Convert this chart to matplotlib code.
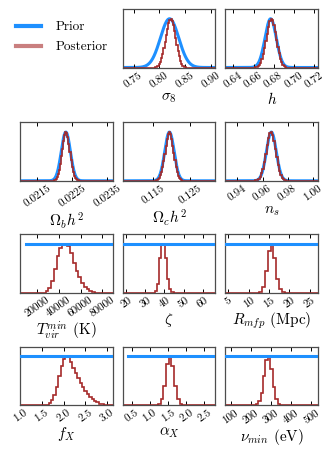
import numpy as np
import matplotlib
matplotlib.use('Agg')
import matplotlib.pyplot as plt
from matplotlib.lines import Line2D

plt.rcParams['font.family'] = 'serif'
plt.rcParams['font.serif'] = ['cmr10']
plt.rcParams['mathtext.fontset'] = 'cm'
plt.rcParams['axes.formatter.use_mathtext'] = True

# parameter names, axis ranges and ticks
names = [r'$\sigma_8$', r'$h$', r'$\Omega_b h^2$', r'$\Omega_c h^2$', r'$n_s$',
         r'$T_{vir}^{min}$ (K)', r'$\zeta$', r'$R_{mfp}$ (Mpc)',
         r'$f_X$', r'$\alpha_X$', r'$\nu_{min}$ (eV)']
xlims = [(0.729, 0.908), (0.632, 0.724), (0.0210, 0.02365), (0.1068, 0.1318),
         (0.9303, 1.0042), (4400, 89500), (18.3, 66.6), (4.3, 27.0),
         (0.998, 3.13), (0.258, 2.80), (74, 533)]
ticks = [[0.75, 0.80, 0.85, 0.90], [0.64, 0.66, 0.68, 0.70, 0.72],
         [0.0215, 0.0225, 0.0235], [0.115, 0.125], [0.94, 0.96, 0.98, 1.00],
         [20000, 40000, 60000, 80000], [20, 30, 40, 50, 60], [5, 10, 15, 20, 25],
         [1.0, 1.5, 2.0, 2.5, 3.0], [0.5, 1.0, 1.5, 2.0, 2.5], [100, 200, 300, 400, 500]]
tick_labels = [['0.75', '0.80', '0.85', '0.90'], ['0.64', '0.66', '0.68', '0.70', '0.72'],
               ['0.0215', '0.0225', '0.0235'], ['0.115', '0.125'], ['0.94', '0.96', '0.98', '1.00'],
               ['20000', '40000', '60000', '80000'], ['20', '30', '40', '50', '60'],
               ['5', '10', '15', '20', '25'], ['1.0', '1.5', '2.0', '2.5', '3.0'],
               ['0.5', '1.0', '1.5', '2.0', '2.5'], ['100', '200', '300', '400', '500']]

# gaussian priors (first five), flat priors (last six)
prior_mean = [0.8195, 0.677, 0.02231, 0.1194, 0.967]
prior_sigma = [0.0177, 0.0056, 0.00013, 0.00126, 0.0039]
flat_prior = [(10000, 100000), (10, 250), (2, 30), (0.1, 10), (0.4, 3.0), (70, 1500)]

# posterior histograms: first bin edge, bin width, counts
post_lo = [0.79145, 0.6614, 0.021965, 0.11565, 0.95435, 28000, 34.9, 12.6, 1.60, 1.22, 225]
post_w = [0.0023, 0.0013, 0.00003, 0.0003, 0.0011, 2500, 1.1, 0.7, 0.055, 0.075, 12]
post_counts = [
    [1, 2, 4, 7, 12, 19, 28, 40, 53, 67, 80, 91, 98, 100, 96, 87, 75, 61, 47, 34, 23, 14, 8, 4, 2, 1],
    [1, 2, 3, 6, 10, 17, 27, 39, 54, 69, 84, 95, 100, 97, 87, 73, 57, 42, 29, 18, 11, 6, 3, 1],
    [1, 2, 4, 8, 14, 23, 35, 50, 66, 81, 93, 100, 98, 89, 75, 59, 43, 29, 18, 10, 5, 3, 1, 1],
    [1, 2, 3, 6, 11, 18, 28, 41, 56, 71, 85, 95, 100, 96, 86, 72, 57, 42, 29, 18, 10, 5, 3, 1],
    [1, 2, 4, 8, 15, 25, 39, 56, 73, 88, 98, 100, 94, 82, 66, 49, 33, 20, 11, 6, 3, 1],
    [3, 10, 24, 48, 75, 92, 99, 100, 95, 82, 61, 44, 31, 20, 12, 7, 3, 1],
    [3, 17, 71, 97, 100, 71, 27, 7, 1],
    [2, 12, 45, 85, 100, 70, 28, 8, 2],
    [1, 5, 10, 21, 38, 59, 80, 94, 100, 98, 89, 77, 66, 56, 45, 37, 30, 23, 17, 13, 8, 6, 3, 2, 1],
    [3, 12, 40, 85, 100, 80, 40, 12, 3],
    [2, 8, 25, 60, 92, 100, 75, 38, 12, 3],
]

W, H = 331, 450
fig = plt.figure(figsize=(W / 100, H / 100), dpi=100)

col_left = [20, 122.7, 225.3]
row_top = [9, 122.3, 234, 346.7]
aw, ah = 92.7, 58.5
slots = [(0, 1), (0, 2), (1, 0), (1, 1), (1, 2), (2, 0), (2, 1), (2, 2), (3, 0), (3, 1), (3, 2)]

for i, (r, c) in enumerate(slots):
    ax = fig.add_axes([col_left[c] / W, 1 - (row_top[r] + ah) / H, aw / W, ah / H])
    lo, hi = xlims[i]
    if i < 5:
        x = np.linspace(lo, hi, 400)
        y = np.exp(-0.5 * ((x - prior_mean[i]) / prior_sigma[i]) ** 2)
        ax.plot(x, y, color='dodgerblue', lw=2.2, zorder=1)
    else:
        a, b = flat_prior[i - 5]
        ax.plot([a, b], [1, 1], color='dodgerblue', lw=2.2, zorder=3)
    counts = np.array(post_counts[i], dtype=float)
    counts = counts / counts.max()
    edges = post_lo[i] + post_w[i] * np.arange(len(counts) + 1)
    ax.stairs(np.r_[0, counts, 0], np.r_[lo, edges, hi], color='brown', lw=1.2, zorder=2)
    ax.set_xlim(lo, hi)
    ax.set_ylim(0, 1.2)
    ax.set_yticks([])
    ax.set_xticks(ticks[i], tick_labels[i], rotation=35, fontsize=8)
    ax.tick_params(axis='x', direction='in', top=True, length=3, width=0.7, pad=2)
    for s in ax.spines.values():
        s.set_color('0.3')
        s.set_linewidth(0.9)
    ax.set_xlabel(names[i], fontsize=11, labelpad=1)

handles = [Line2D([], [], color='dodgerblue', lw=3),
           Line2D([], [], color='brown', alpha=0.6, lw=3)]
fig.legend(handles, ['Prior', 'Posterior'], loc='upper left', bbox_to_anchor=(0.032, 0.965),
           frameon=False, fontsize=9.5, handlelength=1.9, handletextpad=1.1,
           labelspacing=0.6, borderaxespad=0)

fig.savefig('out.png', dpi=100)
